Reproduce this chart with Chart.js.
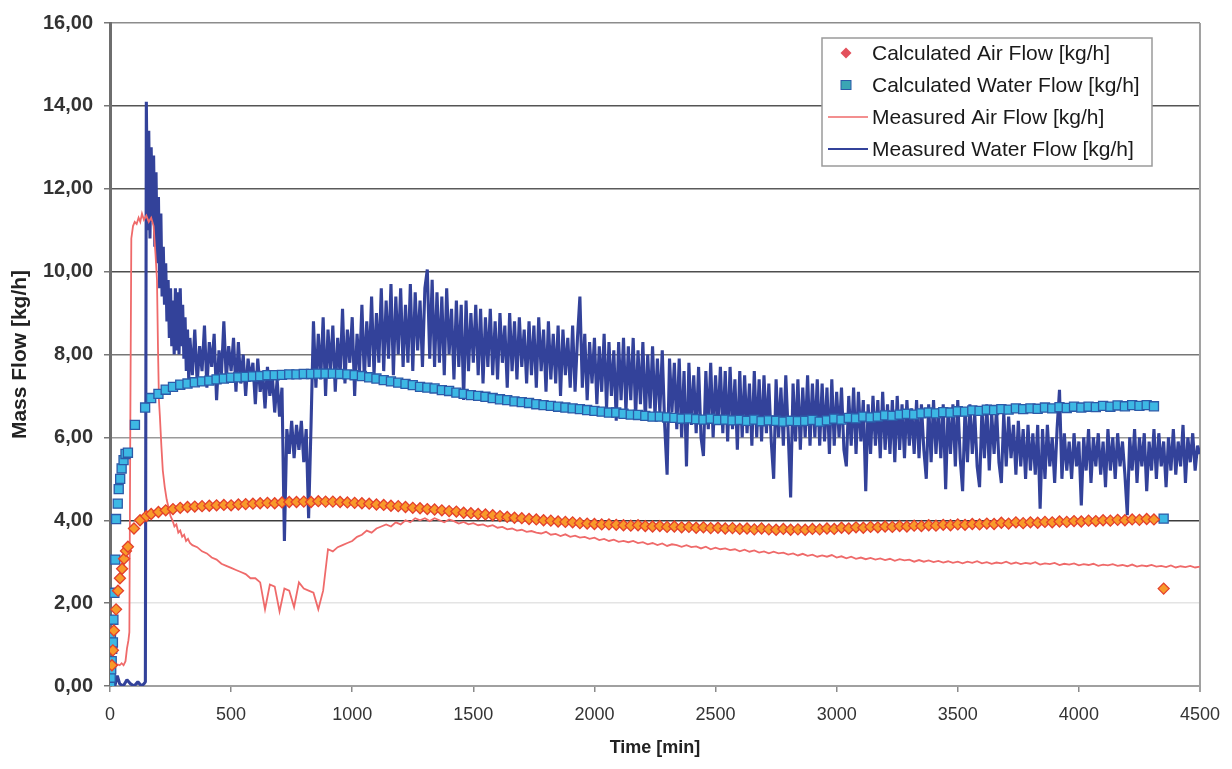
<!DOCTYPE html>
<html>
<head>
<meta charset="utf-8">
<script src="https://cdn.jsdelivr.net/npm/chart.js@4.4.1/dist/chart.umd.min.js"></script>
<style>
html, body { margin: 0; padding: 0; background: #fff; }
#wrap { width: 1232px; height: 769px; }
</style>
</head>
<body>
<div id="wrap"><canvas id="myChart" width="1232" height="769"></canvas></div>
<script>
// series names, in legend order
const seriesNames = ['Calculated Air Flow [kg/h]', 'Calculated Water Flow [kg/h]', 'Measured Air Flow [kg/h]', 'Measured Water Flow [kg/h]'];

// axis tick labels
const xTickLabels = ['0', '500', '1000', '1500', '2000', '2500', '3000', '3500', '4000', '4500'];
const yTickLabels = ['0,00', '2,00', '4,00', '6,00', '8,00', '10,00', '12,00', '14,00', '16,00'];

// calculated points: a few early readings, then one every 30 min from 170 min, then a last point
const calcStart = 170, calcStep = 30;

const calcAirEarlyT = [8, 12, 16, 25, 33, 41, 50, 58, 66, 74, 99, 124, 150];
const calcAirEarlyV = [0.5, 0.86, 1.34, 1.85, 2.3, 2.6, 2.83, 3.07, 3.26, 3.36, 3.8, 4.0, 4.1];
const calcAir = [
  4.15, 4.2, 4.24, 4.27, 4.3, 4.32, 4.33, 4.34, 4.35, 4.36,
  4.37, 4.36, 4.38, 4.39, 4.4, 4.41, 4.42, 4.41, 4.43, 4.44,
  4.44, 4.45, 4.44, 4.46, 4.45, 4.45, 4.44, 4.43, 4.42, 4.41,
  4.4, 4.38, 4.37, 4.35, 4.34, 4.32, 4.3, 4.29, 4.27, 4.26,
  4.24, 4.22, 4.21, 4.18, 4.17, 4.15, 4.14, 4.12, 4.1, 4.08,
  4.06, 4.05, 4.03, 4.02, 4.0, 3.99, 3.97, 3.96, 3.95, 3.93,
  3.92, 3.91, 3.9, 3.9, 3.89, 3.88, 3.87, 3.88, 3.86, 3.85,
  3.86, 3.84, 3.85, 3.83, 3.84, 3.82, 3.83, 3.81, 3.82, 3.8,
  3.81, 3.79, 3.8, 3.78, 3.8, 3.78, 3.77, 3.79, 3.77, 3.78,
  3.77, 3.79, 3.78, 3.8, 3.79, 3.82, 3.8, 3.83, 3.82, 3.84,
  3.83, 3.85, 3.84, 3.86, 3.85, 3.87, 3.86, 3.88, 3.87, 3.89,
  3.88, 3.9, 3.89, 3.91, 3.9, 3.92, 3.91, 3.94, 3.92, 3.95,
  3.93, 3.95, 3.94, 3.96, 3.95, 3.97, 3.96, 3.98, 3.97, 3.99,
  3.98, 4.0, 3.99, 4.01, 4.0, 4.02, 4.01, 4.03, 4.02
];
const calcAirLastT = 4350, calcAirLastV = 2.35;

const calcWaterEarlyT = [1, 3, 5, 7, 9, 4, 12, 14, 18, 22, 25, 32, 36, 42, 48, 56, 64, 74, 103, 145];
const calcWaterEarlyV = [0.05, 0.2, 0.4, 0.6, 0.9, 1.18, 1.05, 1.6, 2.25, 3.05, 4.03, 4.4, 4.75, 5.0, 5.25, 5.45, 5.6, 5.63, 6.3, 6.72];
const calcWater = [
  6.95, 7.05, 7.15, 7.22, 7.27, 7.3, 7.33, 7.35, 7.37, 7.4,
  7.42, 7.44, 7.45, 7.46, 7.47, 7.48, 7.5, 7.5, 7.51, 7.52,
  7.52, 7.53, 7.53, 7.54, 7.54, 7.54, 7.53, 7.52, 7.5, 7.48,
  7.45, 7.42, 7.38, 7.35, 7.32, 7.29, 7.26, 7.22, 7.2, 7.18,
  7.14, 7.12, 7.08, 7.05, 7.02, 7.0, 6.98, 6.95, 6.92, 6.9,
  6.87, 6.85, 6.83, 6.8, 6.78, 6.76, 6.74, 6.72, 6.7, 6.68,
  6.66, 6.64, 6.62, 6.6, 6.6, 6.57, 6.55, 6.54, 6.52, 6.5,
  6.5, 6.48, 6.47, 6.45, 6.46, 6.44, 6.43, 6.45, 6.42, 6.43,
  6.41, 6.42, 6.4, 6.43, 6.39, 6.41, 6.4, 6.38, 6.4, 6.39,
  6.4, 6.42, 6.38, 6.41, 6.45, 6.43, 6.47, 6.46, 6.5, 6.48,
  6.5, 6.53, 6.52, 6.55, 6.57, 6.55, 6.58, 6.6, 6.58, 6.61,
  6.6, 6.63, 6.62, 6.65, 6.64, 6.67, 6.66, 6.68, 6.67, 6.7,
  6.68, 6.7, 6.69, 6.72, 6.7, 6.73, 6.71, 6.74, 6.72, 6.74,
  6.73, 6.76, 6.74, 6.77, 6.75, 6.78, 6.76, 6.78, 6.75
];
const calcWaterLastT = 4350, calcWaterLastV = 4.04;

// measured air: early readings, then every 20 min from 340 min
const measAirEarlyT = [0, 8, 16, 24, 32, 40, 48, 56, 64, 70, 76, 80, 84, 88, 95, 102, 110, 118, 125, 132, 140, 150, 160, 170, 180, 188, 194, 198, 202, 206, 212, 218, 226, 234, 242, 250, 258, 266, 274, 282, 290, 298, 306, 314, 322, 330];
const measAirEarlyV = [0.25, 0.5, 0.55, 0.5, 0.52, 0.5, 0.55, 0.5, 0.6, 0.9, 1.1, 1.3, 6.5, 10.8, 11.1, 11.2, 11.15, 11.3, 11.2, 11.4, 11.25, 11.35, 11.2, 11.3, 11.1, 10.4, 9.8, 8.2, 6.9, 6.5, 5.8, 5.2, 4.8, 4.5, 4.3, 4.1, 4.0, 3.85, 3.9, 3.7, 3.75, 3.6, 3.65, 3.5, 3.55, 3.45];
const measAirStart = 340, measAirStep = 20;
const measAir = [
  3.4, 3.35, 3.25, 3.2, 3.1, 3.05, 2.95, 2.9, 2.85, 2.8,
  2.75, 2.7, 2.6, 2.6, 2.5, 1.85, 2.45, 2.4, 1.8, 2.35,
  2.3, 1.9, 2.5, 2.35, 2.3, 2.25, 1.85, 2.3, 3.3, 3.25,
  3.35, 3.4, 3.45, 3.5, 3.6, 3.65, 3.75, 3.7, 3.8, 3.85,
  3.9, 3.85, 3.95, 3.9, 4.0, 3.95, 4.05, 4.0, 4.05, 3.98,
  4.05, 4.0, 3.95, 4.02, 3.98, 3.92, 3.96, 3.9, 3.93, 3.88,
  3.9, 3.85, 3.88, 3.82, 3.84, 3.78, 3.8, 3.75, 3.77, 3.72,
  3.74, 3.7, 3.68, 3.72, 3.65, 3.67, 3.62, 3.66, 3.6, 3.63,
  3.58, 3.6, 3.55, 3.58, 3.52, 3.55, 3.5, 3.53, 3.48, 3.5,
  3.47, 3.5, 3.45, 3.47, 3.42, 3.45, 3.4, 3.44, 3.38, 3.42,
  3.4, 3.36, 3.4, 3.35, 3.37, 3.32, 3.36, 3.3, 3.34, 3.3,
  3.32, 3.28, 3.3, 3.25, 3.29, 3.24, 3.27, 3.22, 3.25, 3.2,
  3.24, 3.2, 3.22, 3.17, 3.2, 3.15, 3.19, 3.14, 3.17, 3.12,
  3.15, 3.12, 3.16, 3.1, 3.13, 3.08, 3.12, 3.07, 3.1, 3.06,
  3.09, 3.05, 3.08, 3.04, 3.07, 3.02, 3.06, 3.03, 3.05, 3.0,
  3.04, 3.0, 3.03, 2.99, 3.02, 2.98, 3.01, 2.97, 3.0, 2.96,
  3.0, 2.97, 3.01, 2.96, 2.99, 2.95, 2.98, 2.96, 3.0, 2.95,
  2.98, 2.94, 2.97, 2.95, 2.99, 2.93, 2.96, 2.94, 2.97, 2.92,
  2.95, 2.93, 2.96, 2.91, 2.94, 2.92, 2.95, 2.9, 2.93, 2.91,
  2.94, 2.9, 2.92, 2.89, 2.93, 2.88, 2.91, 2.89, 2.92, 2.88,
  2.9, 2.87, 2.91, 2.86, 2.89, 2.87, 2.9, 2.86, 2.88
];

// measured water: early readings, then every 10 min from 330 min
const measWaterEarlyT = [0, 10, 20, 30, 40, 55, 70, 85, 100, 115, 130, 140, 146, 150, 155, 160, 165, 170, 175, 180, 185, 190, 195, 200, 205, 210, 215, 220, 225, 230, 235, 240, 245, 250, 255, 260, 265, 270, 275, 280, 285, 290, 295, 300, 305, 310, 315, 320, 325];
const measWaterEarlyV = [0.05, 0.1, 0.0, 0.25, 0.05, 0.0, 0.15, 0.05, 0.0, 0.1, 0.0, 0.05, 0.1, 14.1, 11.0, 13.4, 10.8, 13.0, 11.2, 12.8, 10.6, 12.4, 10.2, 11.8, 9.6, 11.4, 9.4, 10.6, 9.2, 10.2, 8.8, 9.8, 8.4, 9.6, 8.2, 9.3, 8.0, 9.6, 8.1, 9.5, 8.0, 9.6, 8.2, 9.2, 7.9, 8.9, 7.6, 8.6, 7.4];
const measWaterStart = 330, measWaterStep = 10;
const measWater = [
  8.4, 7.5, 8.6, 7.3, 8.2, 7.6, 8.7, 7.2, 8.3, 7.7, 8.5, 6.9, 8.1, 7.5, 8.8, 7.4, 8.2, 7.6, 8.4, 7.1,
  8.3, 7.3, 8.0, 7.0, 7.9, 7.4, 7.8, 6.8, 7.9, 7.1, 7.6, 6.7, 7.7, 7.0, 7.5, 6.6, 7.4, 6.5, 7.2, 3.5,
  6.2, 5.6, 6.4, 5.5, 6.3, 5.7, 6.4, 5.4, 6.2, 4.05, 6.3, 8.8, 7.2, 8.5, 7.4, 8.9, 7.0, 8.6, 7.6, 8.7,
  7.1, 8.4, 7.5, 9.1, 7.3, 8.6, 7.8, 8.9, 7.0, 8.5, 7.6, 9.2, 7.4, 8.8, 7.7, 9.4, 7.5, 9.0, 7.8, 9.6,
  7.6, 9.3, 7.9, 9.7, 7.5, 9.4, 8.0, 9.6, 7.7, 9.2, 7.8, 9.7, 7.6, 9.5, 8.1, 9.3, 7.7, 9.6, 10.05, 7.9,
  9.8, 7.7, 9.5, 7.8, 9.4, 7.5, 9.6, 8.0, 9.1, 7.4, 9.3, 7.7, 9.2, 6.9, 9.3, 7.6, 9.0, 7.8, 9.2, 7.5,
  9.1, 7.3, 8.9, 7.7, 9.1, 7.5, 8.8, 7.4, 9.0, 7.8, 8.7, 7.2, 9.0, 7.6, 8.8, 7.4, 8.9, 7.7, 8.6, 7.3,
  8.8, 7.5, 8.7, 7.2, 8.9, 7.6, 8.6, 7.1, 8.8, 7.4, 8.5, 7.3, 8.7, 7.0, 8.6, 7.5, 8.4, 7.2, 8.7, 7.1,
  8.4, 9.4, 7.2, 8.5, 6.9, 8.3, 7.3, 8.4, 6.8, 8.2, 7.1, 8.5, 6.7, 8.3, 7.0, 8.1, 6.4, 8.3, 6.9, 8.4,
  6.6, 8.2, 6.9, 8.4, 6.5, 8.1, 6.8, 8.3, 6.4, 8.0, 6.7, 8.2, 6.5, 7.9, 6.6, 8.1, 6.3, 5.1, 7.9, 6.6,
  7.8, 6.2, 7.9, 6.0, 7.6, 5.3, 7.8, 6.3, 7.5, 6.1, 7.7, 6.0, 5.55, 7.6, 6.2, 7.8, 6.0, 7.5, 6.3, 7.7,
  6.1, 7.6, 5.9, 7.7, 6.2, 7.4, 5.7, 7.6, 6.0, 7.5, 6.1, 7.3, 5.8, 7.6, 6.0, 7.4, 5.9, 7.5, 6.1, 7.3,
  5.9, 5.0, 7.4, 6.0, 7.2, 5.8, 7.5, 6.1, 4.55, 7.3, 5.9, 7.4, 5.7, 7.2, 6.0, 7.5, 5.8, 7.3, 6.0, 7.4,
  5.8, 7.3, 5.9, 7.2, 5.6, 7.4, 5.8, 7.1, 6.0, 7.2, 5.7, 5.3, 7.0, 5.8, 7.2, 5.6, 7.1, 5.9, 6.9, 4.7,
  6.8, 5.6, 7.0, 5.8, 6.9, 5.5, 7.1, 5.7, 6.8, 5.6, 6.9, 5.4, 7.0, 5.7, 6.8, 5.5, 6.9, 5.8, 6.7, 5.6,
  6.9, 5.5, 6.8, 5.7, 5.0, 6.8, 5.4, 6.9, 5.6, 6.7, 5.5, 6.8, 4.75, 6.7, 5.6, 6.8, 5.3, 6.9, 5.5, 4.7,
  6.7, 5.4, 6.8, 5.6, 6.6, 5.3, 4.8, 6.7, 5.5, 6.8, 5.2, 6.6, 5.6, 6.7, 5.4, 4.9, 6.6, 5.3, 6.5, 5.5,
  6.3, 5.1, 6.4, 5.3, 6.2, 5.0, 6.3, 5.2, 6.1, 5.1, 6.3, 4.28, 6.2, 5.0, 6.3, 5.3, 6.0, 4.9, 6.2, 7.15,
  5.0, 6.1, 5.2, 5.9, 5.0, 6.1, 5.3, 5.9, 4.36, 6.0, 5.2, 6.2, 4.9, 6.0, 5.3, 6.1, 5.1, 5.9, 4.8, 6.2,
  5.2, 6.0, 5.0, 6.1, 5.3, 5.9, 5.1, 4.12, 6.0, 5.2, 6.2, 4.9, 6.0, 5.3, 6.1, 4.7, 5.9, 5.2, 6.2, 5.0,
  6.1, 5.3, 5.9, 4.8, 6.0, 5.2, 6.2, 5.1, 5.9, 5.3, 6.3, 4.9, 6.0, 5.4, 6.1, 5.2, 5.8, 5.6
];

// build {x, y} point lists
function pairs(times, values) {
  return values.map((v, i) => ({ x: times[i], y: v }));
}
function regular(start, step, values) {
  return values.map((v, i) => ({ x: start + i * step, y: v }));
}

const calcAirPts = pairs(calcAirEarlyT, calcAirEarlyV)
  .concat(regular(calcStart, calcStep, calcAir))
  .concat([{ x: calcAirLastT, y: calcAirLastV }]);
const calcWaterPts = pairs(calcWaterEarlyT, calcWaterEarlyV)
  .concat(regular(calcStart, calcStep, calcWater))
  .concat([{ x: calcWaterLastT, y: calcWaterLastV }]);
const measAirPts = pairs(measAirEarlyT, measAirEarlyV).concat(regular(measAirStart, measAirStep, measAir));
const measWaterPts = pairs(measWaterEarlyT, measWaterEarlyV).concat(regular(measWaterStart, measWaterStep, measWater));

// gridline shades as they look in the picture
const gridShade = { 0: 'rgba(0,0,0,0)', 2: '#e4e4e4', 4: '#3c3c3c', 6: '#9a9a9a', 8: '#777777', 10: '#4e4e4e', 12: '#5a5a5a', 14: '#555555', 16: '#8c8c8c' };

Chart.defaults.font.family = '"Liberation Sans", Arial, sans-serif';
Chart.defaults.color = '#333';

// right edge of the plot frame
const frameEdge = {
  id: 'frameEdge',
  beforeDatasetsDraw(chart) {
    const { ctx, chartArea } = chart;
    ctx.save();
    ctx.strokeStyle = '#a0a0a0';
    ctx.lineWidth = 2;
    ctx.beginPath();
    ctx.moveTo(chartArea.right, chartArea.top);
    ctx.lineTo(chartArea.right, chartArea.bottom + 6);
    ctx.stroke();
    ctx.restore();
  }
};

// boxed legend inside the plot, top right
const boxLegend = {
  id: 'boxLegend',
  afterDraw(chart) {
    const ctx = chart.ctx;
    const left = 822, top = 38, right = 1152, bottom = 166;
    ctx.save();
    ctx.fillStyle = '#fff';
    ctx.fillRect(left, top, right - left, bottom - top);
    ctx.strokeStyle = '#9a9a9a';
    ctx.lineWidth = 1.5;
    ctx.strokeRect(left, top, right - left, bottom - top);
    ctx.font = '21px "Liberation Sans", Arial, sans-serif';
    ctx.textBaseline = 'middle';
    chart.data.datasets.forEach((ds, i) => {
      const y = 53 + i * 32;
      const mx = 846;
      if (ds.showLine) {
        ctx.strokeStyle = ds.borderColor;
        ctx.lineWidth = i === 3 ? 2.2 : 1.5;
        ctx.beginPath();
        ctx.moveTo(828, y);
        ctx.lineTo(868, y);
        ctx.stroke();
      } else if (ds.pointStyle === 'rectRot') {
        ctx.fillStyle = '#e3505c';
        ctx.beginPath();
        ctx.moveTo(mx, y - 5.5);
        ctx.lineTo(mx + 5.5, y);
        ctx.lineTo(mx, y + 5.5);
        ctx.lineTo(mx - 5.5, y);
        ctx.closePath();
        ctx.fill();
      } else {
        ctx.fillStyle = '#3aa6b4';
        ctx.strokeStyle = '#2c5aa8';
        ctx.lineWidth = 1;
        ctx.fillRect(mx - 5, y - 4.5, 10, 9);
        ctx.strokeRect(mx - 5, y - 4.5, 10, 9);
      }
      ctx.fillStyle = '#1a1a1a';
      ctx.fillText(ds.label, 872, y + 1);
    });
    ctx.restore();
  }
};

const ctx = document.getElementById('myChart').getContext('2d');

const data = {
  datasets: [
    {
      label: seriesNames[0],
      data: calcAirPts,
      pointStyle: 'rectRot',
      pointRadius: 5.5,
      backgroundColor: '#f89a2a',
      borderColor: '#e4402c',
      borderWidth: 1.3,
      showLine: false
    },
    {
      label: seriesNames[1],
      data: calcWaterPts,
      pointStyle: 'rect',
      pointRadius: 6.4,
      backgroundColor: '#3db8e4',
      borderColor: '#2c5aa8',
      borderWidth: 1.3,
      showLine: false
    },
    {
      label: seriesNames[2],
      data: measAirPts,
      showLine: true,
      pointRadius: 0,
      borderColor: '#ef6a6a',
      borderWidth: 1.8,
      tension: 0
    },
    {
      label: seriesNames[3],
      data: measWaterPts,
      showLine: true,
      pointRadius: 0,
      borderColor: '#33429a',
      borderWidth: 3.1,
      borderJoinStyle: 'bevel',
      tension: 0
    }
  ]
};

const config = {
  type: 'scatter',
  data: data,
  options: {
    responsive: false,
    animation: false,
    devicePixelRatio: 1,
    layout: { padding: { top: 19, right: 32, left: 0, bottom: 0 } },
    plugins: {
      legend: { display: false },
      tooltip: { enabled: false }
    },
    scales: {
      x: {
        type: 'linear',
        min: 0,
        max: 4500,
        afterFit(scale) { scale.height = 83; },
        border: { display: true, color: '#a0a0a0', width: 2 },
        grid: { drawOnChartArea: false, drawTicks: true, tickLength: 6, tickColor: '#8a8a8a', lineWidth: 1.5 },
        ticks: {
          stepSize: 500,
          padding: 12,
          maxRotation: 0,
          font: { size: 18 },
          color: '#333',
          callback: (v) => xTickLabels[v / 500]
        },
        title: {
          display: true,
          text: 'Time [min]',
          font: { size: 18, weight: 'bold' },
          color: '#222',
          padding: { top: 0, bottom: 10 }
        }
      },
      y: {
        min: 0,
        max: 16,
        afterFit(scale) { scale.width = 110; },
        border: { display: true, color: '#6e6e6e', width: 3 },
        grid: {
          color: (c) => gridShade[c.tick.value] || '#777',
          lineWidth: 1.5,
          drawTicks: true,
          tickLength: 6,
          tickColor: '#777'
        },
        ticks: {
          stepSize: 2,
          padding: 11,
          font: { size: 20, weight: 'bold' },
          color: '#333',
          callback: (v) => yTickLabels[v / 2]
        },
        title: {
          display: true,
          text: 'Mass Flow [kg/h]',
          font: { size: 21, weight: 'bold' },
          color: '#222',
          padding: { top: 8, bottom: 0 }
        }
      }
    }
  },
  plugins: [frameEdge, boxLegend]
};

const myChart = new Chart(ctx, config);
</script>
</body>
</html>
